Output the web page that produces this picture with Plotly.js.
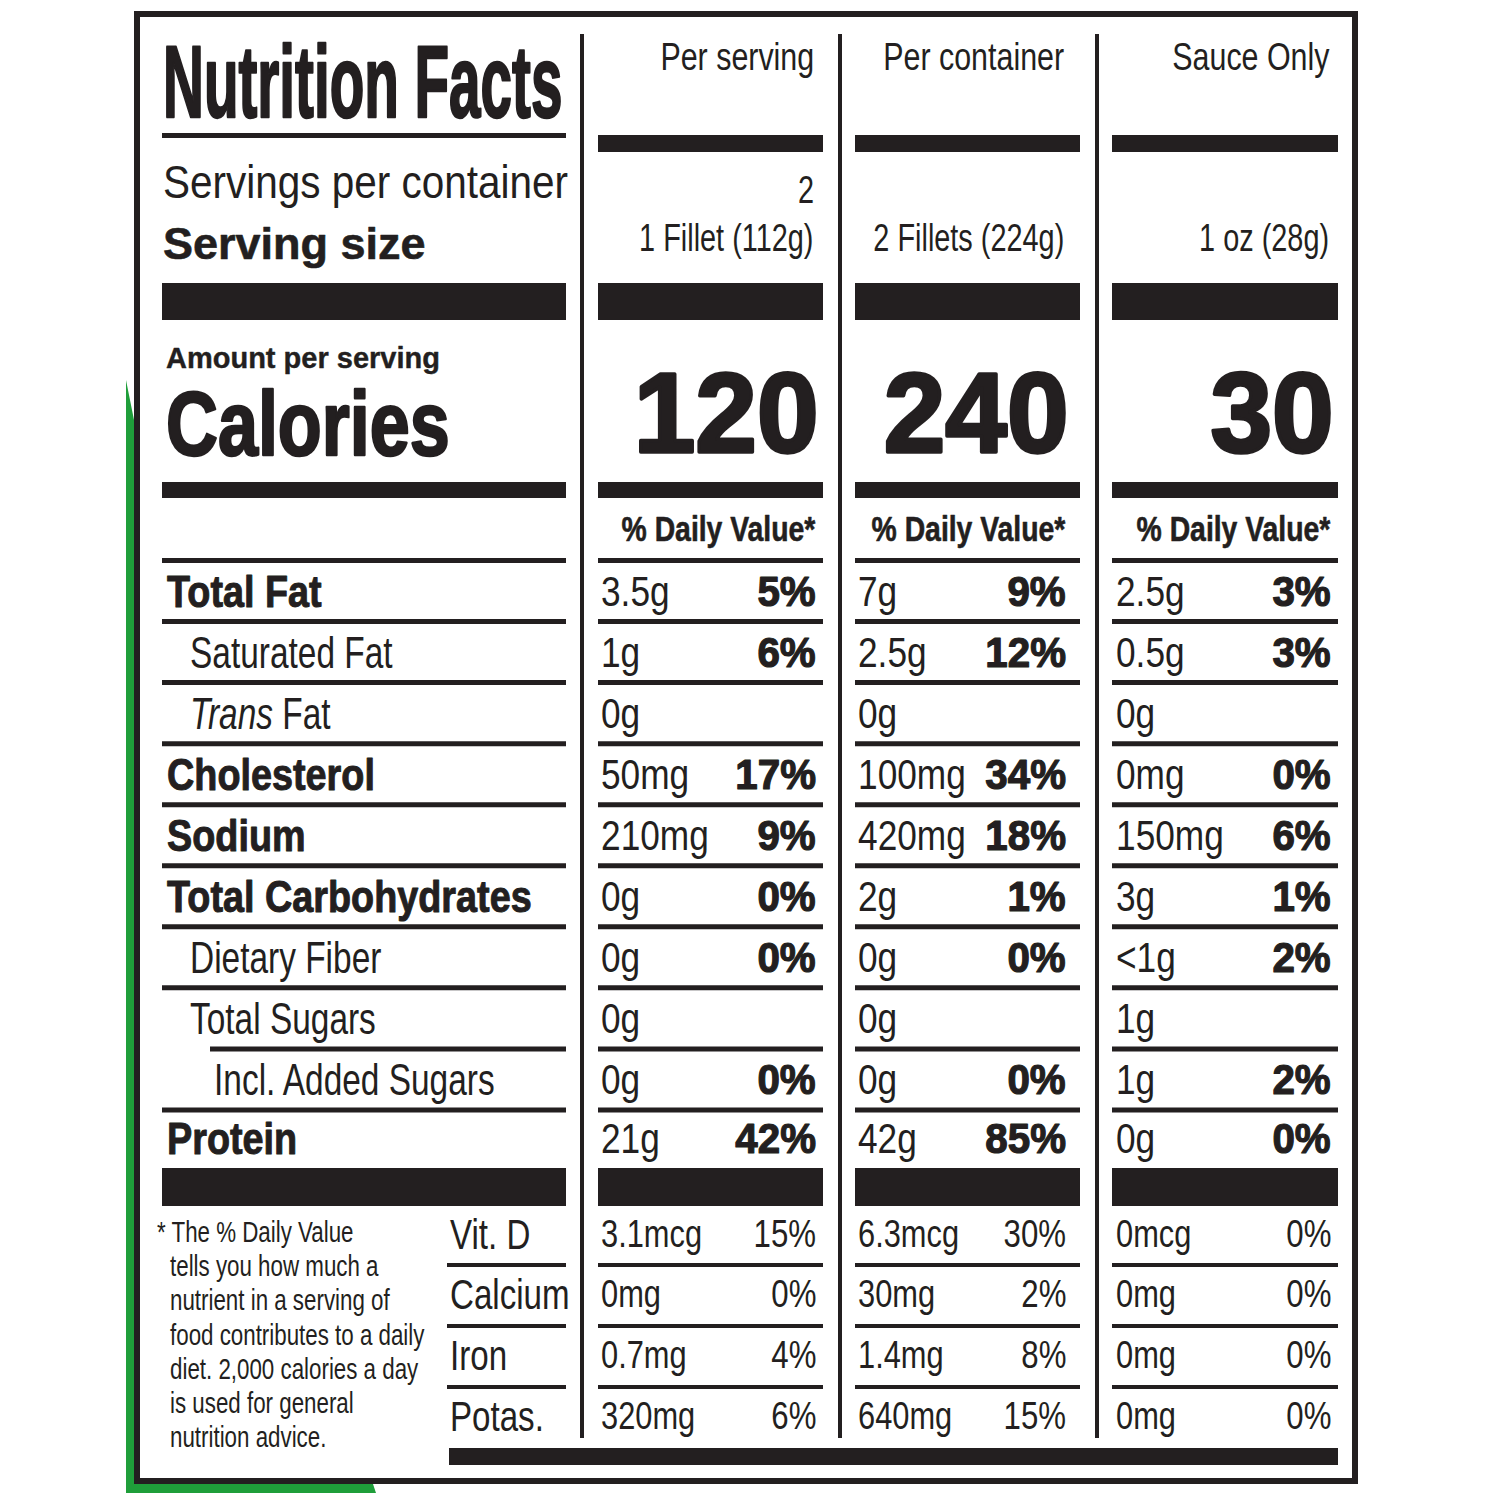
<!DOCTYPE html>
<html><head><meta charset="utf-8">
<script src="https://cdn.plot.ly/plotly-3.0.1.min.js"></script>
<style>html,body{margin:0;padding:0;background:#fff}</style>
</head><body><div id="chart" style="width:1493px;height:1493px"></div>
<script>
// ---------------- DATA ----------------
const title = "Nutrition Facts";
const columnHeaders = ["Per serving", "Per container", "Sauce Only"];
const servingsPerContainerLabel = "Servings per container";
const servingSizeLabel = "Serving size";
const servingsPerContainer = ["2", "", ""];
const servingSizes = ["1 Fillet (112g)", "2 Fillets (224g)", "1 oz (28g)"];
const amountLabel = "Amount per serving";
const caloriesLabel = "Calories";
const calories = [120, 240, 30];
const dvHeader = "% Daily Value*";
const nutrients = ["Total Fat", "Saturated Fat", "<i>Trans</i> Fat", "Cholesterol", "Sodium",
  "Total Carbohydrates", "Dietary Fiber", "Total Sugars", "Incl. Added Sugars", "Protein"];
const nutrientLevel = [0, 1, 1, 0, 0, 0, 1, 1, 2, 0];
const amountsPerServing = ["3.5g", "1g", "0g", "50mg", "210mg", "0g", "0g", "0g", "0g", "21g"];
const dvPerServing = ["5%", "6%", "", "17%", "9%", "0%", "0%", "", "0%", "42%"];
const amountsPerContainer = ["7g", "2.5g", "0g", "100mg", "420mg", "2g", "0g", "0g", "0g", "42g"];
const dvPerContainer = ["9%", "12%", "", "34%", "18%", "1%", "0%", "", "0%", "85%"];
const amountsSauce = ["2.5g", "0.5g", "0g", "0mg", "150mg", "3g", "<1g", "1g", "1g", "0g"];
const dvSauce = ["3%", "3%", "", "0%", "6%", "1%", "2%", "", "2%", "0%"];
const vitamins = ["Vit. D", "Calcium", "Iron", "Potas."];
const vitPerServing = ["3.1mcg", "0mg", "0.7mg", "320mg"];
const vitDvPerServing = ["15%", "0%", "4%", "6%"];
const vitPerContainer = ["6.3mcg", "30mg", "1.4mg", "640mg"];
const vitDvPerContainer = ["30%", "2%", "8%", "15%"];
const vitSauce = ["0mcg", "0mg", "0mg", "0mg"];
const vitDvSauce = ["0%", "0%", "0%", "0%"];
const footnoteLines = ["* The % Daily Value", "tells you how much a", "nutrient in a serving of",
  "food contributes to a daily", "diet. 2,000 calories a day", "is used for general", "nutrition advice."];

// ---------------- STYLE / LAYOUT ----------------
const INK = "#231f20";
const GREEN = "#1f9e3a";
const SANS = "'Liberation Sans', Arial, Helvetica, sans-serif";
// text styles: size, weight, horizontal squeeze (condensed look), extra stroke (heavier weight)
const ST = {
  title:    {size: 102, weight: "bold",   sx: 0.555, stroke: 2.5},
  spc:      {size: 46,  weight: "normal", sx: 0.88,  stroke: 0},
  ssize:    {size: 45,  weight: "bold",   sx: 1.0,   stroke: 0.6},
  amount:   {size: 29,  weight: "bold",   sx: 1.0,   stroke: 0.4},
  cal:      {size: 91,  weight: "bold",   sx: 0.79,  stroke: 2.5},
  header:   {size: 38,  weight: "normal", sx: 0.8,   stroke: 0},
  serving:  {size: 38,  weight: "normal", sx: 0.76,  stroke: 0},
  bigNum:   {size: 113, weight: "bold",   sx: 0.98,  stroke: 3.5},
  dvHead:   {size: 35,  weight: "bold",   sx: 0.81,  stroke: 0.6},
  labelB:   {size: 45,  weight: "bold",   sx: 0.84,  stroke: 1},
  labelR:   {size: 44,  weight: "normal", sx: 0.76,  stroke: 0},
  value:    {size: 42,  weight: "normal", sx: 0.84,  stroke: 0},
  pctB:     {size: 42,  weight: "bold",   sx: 0.96,  stroke: 1.2},
  vitLabel: {size: 43,  weight: "normal", sx: 0.77,  stroke: 0},
  vitVal:   {size: 39,  weight: "normal", sx: 0.79,  stroke: 0},
  vitPct:   {size: 39,  weight: "normal", sx: 0.8,   stroke: 0},
  foot:     {size: 29,  weight: "normal", sx: 0.77,  stroke: 0}
};
const colLeft = [598, 855, 1112], colRight = [823, 1080, 1338];
const txtLeft = [599, 856, 1114], txtRight = [818, 1068, 1333];
const dividerX = [582, 840, 1097];
const leftL = 162, leftR = 566;
const rowY = i => 560.5 + 61.05 * i;           // thin row rules
const proteinBarTop = 1168, proteinBarBot = 1206;
const vitLines = [1265, 1326, 1387], vitBottom = 1448;
const levelX = [165, 188, 212];

const colAmounts = [amountsPerServing, amountsPerContainer, amountsSauce];
const colDv = [dvPerServing, dvPerContainer, dvSauce];
const colVit = [vitPerServing, vitPerContainer, vitSauce];
const colVitDv = [vitDvPerServing, vitDvPerContainer, vitDvSauce];

const esc = s => String(s).replace(/&/g, "&amp;").replace(/</g, "&lt;").replace(/>/g, "&gt;");

const shapes = [];
function bar(x0, y0, x1, y1) {
  shapes.push({type: "rect", xref: "x", yref: "y", x0, y0, x1, y1, fillcolor: INK, line: {width: 0}, layer: "above"});
}
// green package background peeking out
shapes.push({type: "path", xref: "x", yref: "y", path: "M126,380 L134,420 L134,1484 L373,1484 L376,1493 L126,1493 Z",
  fillcolor: GREEN, line: {width: 0}, layer: "below"});
// outer border
shapes.push({type: "rect", xref: "x", yref: "y", x0: 137, y0: 14, x1: 1355, y1: 1481,
  fillcolor: "rgba(0,0,0,0)", line: {color: INK, width: 6}, layer: "above"});
// column dividers
dividerX.forEach(x => bar(x - 2, 34, x + 2, 1438));
// left column rules
bar(leftL, 133, leftR, 138);
bar(leftL, 283, leftR, 320);
bar(leftL, 482, leftR, 498);
for (let i = 0; i < 10; i++) {
  const y = rowY(i);
  bar(i === 8 ? 210 : leftL, y - 2.5, leftR, y + 2.5);
}
bar(leftL, proteinBarTop, leftR, proteinBarBot);
vitLines.forEach(y => bar(447, y - 2, leftR, y + 2));
// value column rules
for (let c = 0; c < 3; c++) {
  const a = colLeft[c], b = colRight[c];
  bar(a, 135, b, 152);
  bar(a, 283, b, 320);
  bar(a, 482, b, 498);
  for (let i = 0; i < 10; i++) { const y = rowY(i); bar(a, y - 2.5, b, y + 2.5); }
  bar(a, proteinBarTop, b, proteinBarBot);
  vitLines.forEach(y => bar(a, y - 2, b, y + 2));
}
bar(449, vitBottom, 1338, 1465);

// ---------------- ANNOTATIONS ----------------
const annotations = [];
const squeeze = [];
function ann(text, x, y, xanchor, st) {
  annotations.push({
    text, x, y, xref: "x", yref: "y", xanchor, yanchor: "middle", showarrow: false,
    font: {family: SANS, size: st.size, color: INK, weight: st.weight}
  });
  squeeze.push({sx: st.sx, stroke: st.stroke, anchor: xanchor});
}
ann(title, 161, 82, "left", ST.title);
ann(servingsPerContainerLabel, 161, 182, "left", ST.spc);
ann(servingSizeLabel, 161, 243, "left", ST.ssize);
ann(amountLabel, 164, 358, "left", ST.amount);
ann(caloriesLabel, 164, 423, "left", ST.cal);
for (let c = 0; c < 3; c++) {
  ann(columnHeaders[c], txtRight[c] - 2, 57, "right", ST.header);
  if (servingsPerContainer[c]) ann(servingsPerContainer[c], txtRight[c] - 2, 190, "right", ST.serving);
  ann(esc(servingSizes[c]), txtRight[c] - 2, 238, "right", ST.serving);
  ann(String(calories[c]), txtRight[c] + 3, 413, "right", ST.bigNum);
  ann(esc(dvHeader), txtRight[c], 528, "right", ST.dvHead);
}
for (let i = 0; i < nutrients.length; i++) {
  const yc = i < 9 ? (rowY(i) + rowY(i + 1)) / 2 : (rowY(9) + proteinBarTop) / 2;
  const lvl = nutrientLevel[i];
  ann(nutrients[i], levelX[lvl], yc, "left", lvl === 0 ? ST.labelB : ST.labelR);
  for (let c = 0; c < 3; c++) {
    ann(esc(colAmounts[c][i]), txtLeft[c], yc, "left", ST.value);
    if (colDv[c][i]) ann(esc(colDv[c][i]), txtRight[c], yc, "right", ST.pctB);
  }
}
const vitBounds = [proteinBarBot].concat(vitLines, [vitBottom]);
for (let i = 0; i < vitamins.length; i++) {
  const yc = (vitBounds[i] + vitBounds[i + 1]) / 2 - 2;
  ann(esc(vitamins[i]), 448, yc, "left", ST.vitLabel);
  for (let c = 0; c < 3; c++) {
    ann(esc(colVit[c][i]), txtLeft[c], yc, "left", ST.vitVal);
    ann(esc(colVitDv[c][i]), txtRight[c], yc, "right", ST.vitPct);
  }
}
footnoteLines.forEach((t, i) => {
  ann(esc(t), i === 0 ? 155 : 168, 1232 + 34.2 * i, "left", ST.foot);
});

const data = [{type: "scatter", x: [0, 1493], y: [0, 1493], mode: "markers",
  marker: {opacity: 0}, hoverinfo: "skip", showlegend: false}];
const layout = {
  width: 1493, height: 1493, margin: {l: 0, r: 0, t: 0, b: 0, pad: 0},
  paper_bgcolor: "#ffffff", plot_bgcolor: "#ffffff", showlegend: false,
  xaxis: {range: [0, 1493], visible: false, fixedrange: true},
  yaxis: {range: [1493, 0], visible: false, fixedrange: true},
  shapes, annotations
};
Plotly.newPlot("chart", data, layout, {staticPlot: true}).then(gd => {
  squeeze.forEach((q, idx) => {
    const t = gd.querySelector('.annotation[data-index="' + idx + '"] text.annotation-text');
    if (!t) return;
    if (q.stroke) {
      t.style.stroke = INK;
      t.style.strokeWidth = q.stroke + "px";
      t.style.strokeLinejoin = "round";
    }
    if (q.sx === 1) return;
    const bb = t.getBBox();
    const ax = q.anchor === "right" ? bb.x + bb.width : bb.x;
    t.setAttribute("transform", "translate(" + ax + ",0) scale(" + q.sx + ",1) translate(" + (-ax) + ",0)");
  });
});
</script></body></html>
